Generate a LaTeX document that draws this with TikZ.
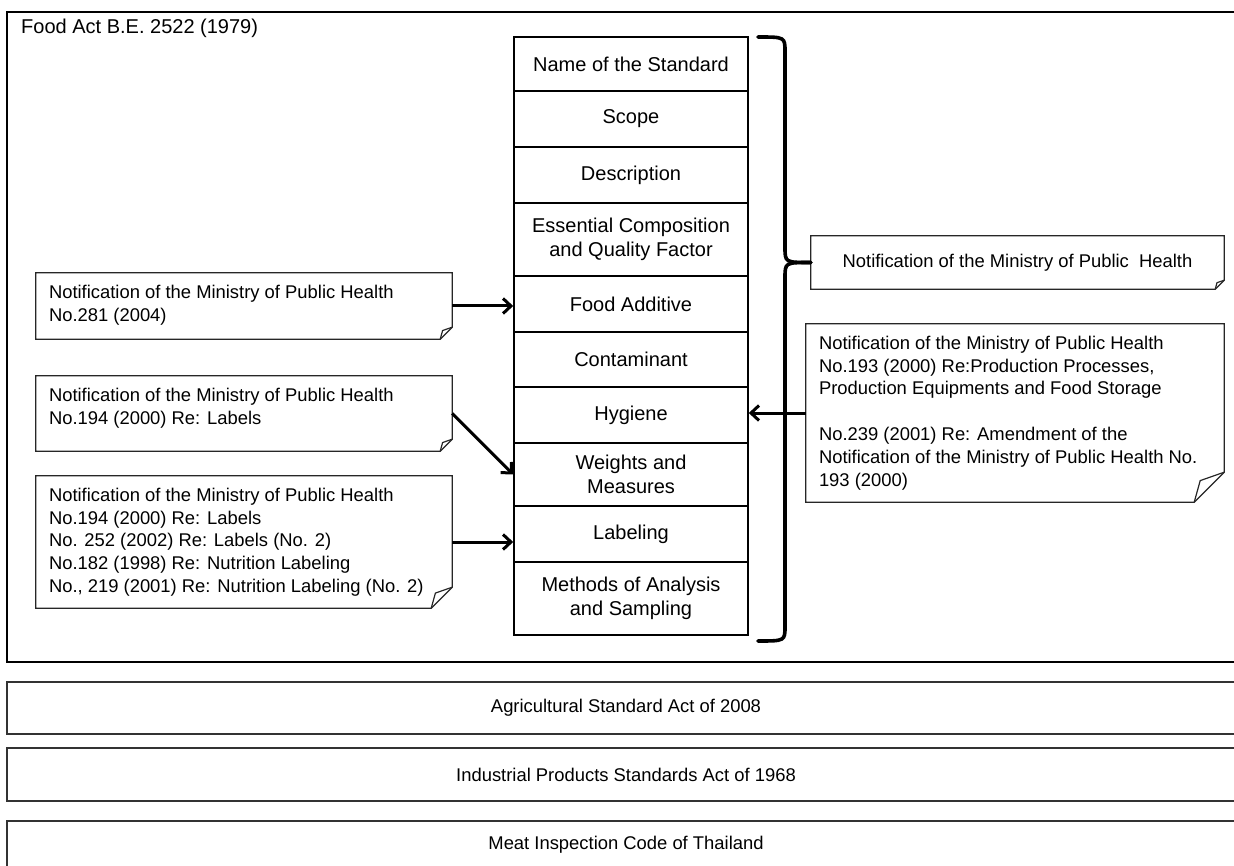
\documentclass[tikz,border=0pt]{standalone}
\usepackage{fontspec}
\setmainfont{Liberation Sans}
\usetikzlibrary{arrows.meta}

\newcommand{\colfont}{\fontsize{20}{24}\selectfont}
\newcommand{\notefont}{\fontsize{18.4}{22.8}\selectfont}
% outline with a folded bottom right corner
\newcommand{\dogear}[2]{%
  \draw [notebox] (#1.north west) -- (#1.north east) -- ([yshift=#2]#1.south east)
    -- ([xshift=-#2]#1.south east) -- (#1.south west) -- cycle;
  \draw [notebox] ([xshift=-#2]#1.south east) -- ([xshift=-0.8*#2,yshift=0.72*#2]#1.south east)
    -- ([yshift=#2]#1.south east);
}

\begin{document}
\begin{tikzpicture}[x=1pt,y=1pt]
  \tikzstyle{every node}+=[inner sep=0pt]
  \tikzstyle{part}=[draw=black, line width=1.6pt, minimum width=234pt, align=center, font=\colfont]
  \tikzstyle{notebox}=[draw=black!85, line width=1.2pt]
  \tikzstyle{notetext}=[anchor=north west, align=left, font=\notefont]
  \tikzstyle{act}=[draw=black!80, line width=1.4pt, minimum width=1238pt, font=\notefont]
  \tikzstyle{link}=[black, line width=3pt, -{Straight Barb[length=8pt,width=15pt]}]
  \tikzstyle{brace}=[black, line width=3.6pt, line cap=round]
  \useasboundingbox (0,0) rectangle (1234,-866);
  \clip (0,0) rectangle (1234,-866);

  % Food Act frame
  \draw [black, line width=1.4pt] (7,-12) rectangle (1245,-662);
  \draw (21,-28) node [anchor=west, font=\colfont] {Food Act B.E. 2522 (1979)};

  % parts of the standard
  \node [part, minimum height=54pt] (name) at (631,-64) {Name of the Standard};
  \node [part, minimum height=56pt] (scope) at (631,-119) {Scope};
  \node [part, minimum height=56pt] (descr) at (631,-175) {Description};
  \node [part, minimum height=73pt] (essen) at (631,-239.5) {Essential Composition\\and Quality Factor};
  \node [part, minimum height=56pt] (fadd) at (631,-304) {Food Additive};
  \node [part, minimum height=55pt] (conta) at (631,-359.5) {Contaminant};
  \node [part, minimum height=56pt] (hygiene) at (631,-415) {Hygiene};
  \node [part, minimum height=63pt] (weights) at (631,-474.5) {Weights and\\Measures};
  \node [part, minimum height=56pt] (label) at (631,-534) {Labeling};
  \node [part, minimum height=73pt] (methods) at (631,-598.5) {Methods of Analysis\\and Sampling};

  % notifications
  \node [minimum width=416pt, minimum height=66pt] (n281) at (244,-306) {};
  \dogear{n281}{12pt}
  \node [notetext] at ([xshift=13pt,yshift=-12pt]n281.north west)
    {Notification of the Ministry of Public Health\\No.281 (2004)};
  \node [minimum width=416pt, minimum height=75pt] (n194) at (244,-413.5) {};
  \dogear{n194}{12pt}
  \node [notetext] at ([xshift=13pt,yshift=-12pt]n194.north west)
    {Notification of the Ministry of Public Health\\No.194 (2000) Re: Labels};
  \node [minimum width=416pt, minimum height=132pt] (nlabel) at (244,-542) {};
  \dogear{nlabel}{21pt}
  \node [notetext] at ([xshift=13pt,yshift=-12pt]nlabel.north west)
    {Notification of the Ministry of Public Health\\No.194 (2000) Re: Labels\\No. 252 (2002) Re: Labels (No. 2)\\No.182 (1998) Re: Nutrition Labeling\\No., 219 (2001) Re: Nutrition Labeling (No. 2)};
  \node [minimum width=413pt, minimum height=53pt, font=\notefont] (nmoph) at (1017.5,-262.5)
    {Notification of the Ministry of Public\ \ Health};
  \dogear{nmoph}{9pt}
  \node [minimum width=418pt, minimum height=178pt] (n193) at (1015,-413) {};
  \dogear{n193}{30pt}
  \node [notetext] at ([xshift=13pt,yshift=-12pt]n193.north west)
    {Notification of the Ministry of Public Health\\No.193 (2000) Re:Production Processes,\\Production Equipments and Food Storage\\[22.8pt]No.239 (2001) Re: Amendment of the\\Notification of the Ministry of Public Health No.\\193 (2000)};

  % arrows
  \draw [link] (n281.east) -- (n281.east -| fadd.west);
  \draw [link] (n194.east) -- (weights.west);
  \draw [link] (nlabel.east) -- (nlabel.east -| label.west);
  \draw [link] (n193.west) -- (n193.west -| hygiene.east);

  % brace
  \draw [brace] (758,-37) .. controls (785,-37) .. (785,-52) -- (785,-247)
    .. controls (785,-262.5) .. (nmoph.west);
  \draw [brace] (nmoph.west) .. controls (785,-262.5) .. (785,-278) -- (785,-626)
    .. controls (785,-641) .. (758,-641);

  % other acts
  \node [act, minimum height=52pt] (agri) at (626,-708) {Agricultural Standard Act of 2008};
  \node [act, minimum height=53pt] (indus) at (626,-774.5) {Industrial Products Standards Act of 1968};
  \node [act, minimum height=48pt] (meat) at (626,-845) {Meat Inspection Code of Thailand};
\end{tikzpicture}
\end{document}
